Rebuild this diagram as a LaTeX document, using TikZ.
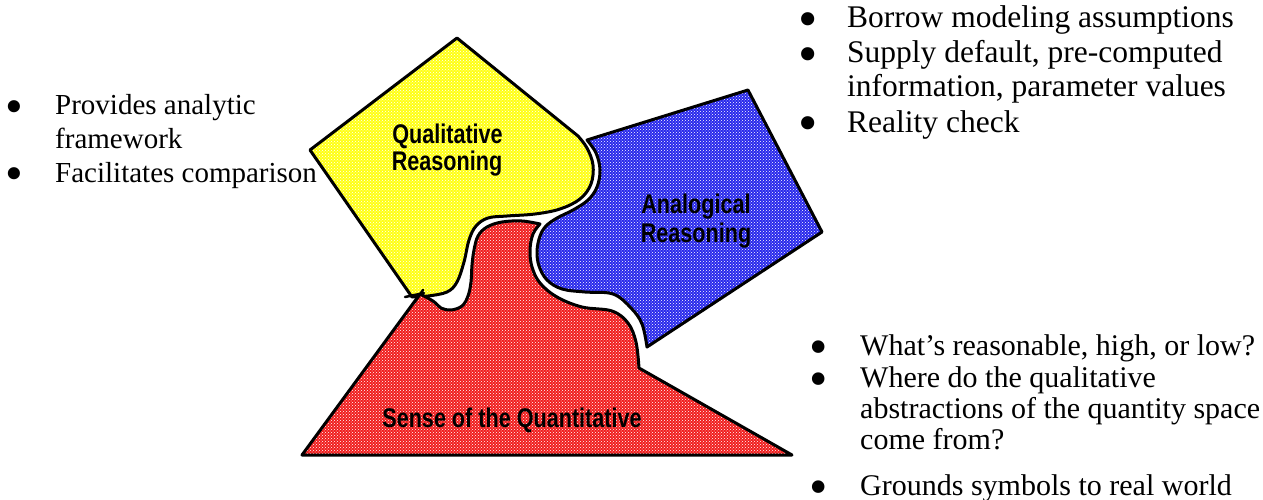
\documentclass[tikz,border=0pt]{standalone}
\usepackage{fontspec}
\setmainfont{Liberation Serif}
\newfontfamily\labelfont[FakeStretch=0.8]{Liberation Sans Bold}
\usetikzlibrary{patterns}

\definecolor{qualyellow}{RGB}{255,255,20}
\definecolor{quantred}{RGB}{240,30,30}
\definecolor{analblue}{RGB}{40,40,235}

\newcommand{\bigdot}{\raisebox{-0.3em}[0pt][0pt]{\scalebox{1.75}{\textbullet}}}

\tikzset{
  region/.style={draw=black, line width=3pt, line join=round,
    pattern=crosshatch dots, pattern color=white},
  regionlabel/.style={font=\labelfont\fontsize{27}{27}\selectfont, inner sep=0pt, anchor=base},
  listtext/.style={font=\fontsize{29}{33}\selectfont, inner sep=0pt, anchor=base west},
  listdot/.style={font=\fontsize{29}{33}\selectfont, inner sep=0pt, anchor=base},
  toptext/.style={listtext, font=\fontsize{31.5}{35}\selectfont},
  topdot/.style={listdot, font=\fontsize{31.5}{35}\selectfont},
  lowtext/.style={listtext, font=\fontsize{30}{33}\selectfont},
  lowdot/.style={listdot, font=\fontsize{30}{33}\selectfont},
}

\begin{document}
\begin{tikzpicture}[x=1pt, y=-1pt]
\useasboundingbox (0,0) rectangle (1263,500);

% Qualitative Reasoning
\path[region, preaction={fill=qualyellow}]
  (310,150) -- (457,38) -- (578,136)
  -- plot[smooth, tension=0.6] coordinates {(578,136) (587,148) (593,165) (591,184)
     (580,199) (560,209) (535,214) (507,216) (488,218) (476,226) (469,240)
     (464,262) (457,282) (447,292) (428,296) (412,297)}
  -- cycle;
\draw[line width=2.5pt, line cap=round] (405,297) -- (424,293);

% Sense of the Quantitative
\path[region, preaction={fill=quantred}]
  (302,455) -- (420,294)
  -- plot[smooth, tension=0.6] coordinates {(420,294) (433,301) (441,308) (451,310)
     (462,306) (468,296) (471,282) (472,265) (474,250) (478,236) (487,227)
     (502,222) (522,221) (540,224)}
  -- plot[smooth, tension=0.6] coordinates {(540,224) (533,234) (530,250) (532,267)
     (540,283) (557,297) (582,307) (612,311) (628,323) (636,342) (639,368)}
  -- (792,455) -- cycle;
\draw[line width=2.5pt, line cap=round] (414,303) -- (423,290);

% Analogical Reasoning
\path[region, preaction={fill=analblue}]
  (587,140) -- (748,90) -- (822,232) -- (647,347)
  -- plot[smooth, tension=0.6] coordinates {(647,347) (642,324) (631,308) (613,294)
     (585,292) (562,289) (547,280) (539,266) (537,251) (540,236) (546,226)
     (557,218) (573,210) (588,200) (597,187) (600,170) (596,153) (587,140)}
  -- cycle;

% region labels
\node[regionlabel] (qual1) at (447.5,143) {Qualitative};
\node[regionlabel] (qual2) at (447,170) {Reasoning};
\node[regionlabel] (anal1) at (696,213) {Analogical};
\node[regionlabel] (anal2) at (696,242) {Reasoning};
\node[regionlabel] (quant) at (512,427) {Sense of the Quantitative};

% left list
\node[listdot]  (lb1) at (14,115) {\bigdot};
\node[listtext] (lt1) at (55,115) {Provides analytic};
\node[listtext] (lt2) at (55,148) {framework};
\node[listdot]  (lb2) at (14,182) {\bigdot};
\node[listtext] (lt3) at (55,182) {Facilitates comparison};

% top right list
\node[topdot]  (rb1) at (808,28) {\bigdot};
\node[toptext] (rt1) at (847,28) {Borrow modeling assumptions};
\node[topdot]  (rb2) at (808,63) {\bigdot};
\node[toptext] (rt2) at (847,63) {Supply default, pre-computed};
\node[toptext] (rt3) at (847,97) {information, parameter values};
\node[topdot]  (rb3) at (808,132) {\bigdot};
\node[toptext] (rt4) at (847,132) {Reality check};

% bottom right list
\node[lowdot]  (bb1) at (819,355) {\bigdot};
\node[lowtext] (bt1) at (860,355) {What’s reasonable, high, or low?};
\node[lowdot]  (bb2) at (819,387) {\bigdot};
\node[lowtext] (bt2) at (860,387) {Where do the qualitative};
\node[lowtext] (bt3) at (860,418) {abstractions of the quantity space};
\node[lowtext] (bt4) at (860,449) {come from?};
\node[lowdot]  (bb3) at (819,495) {\bigdot};
\node[lowtext] (bt5) at (860,495) {Grounds symbols to real world};
\end{tikzpicture}
\end{document}
